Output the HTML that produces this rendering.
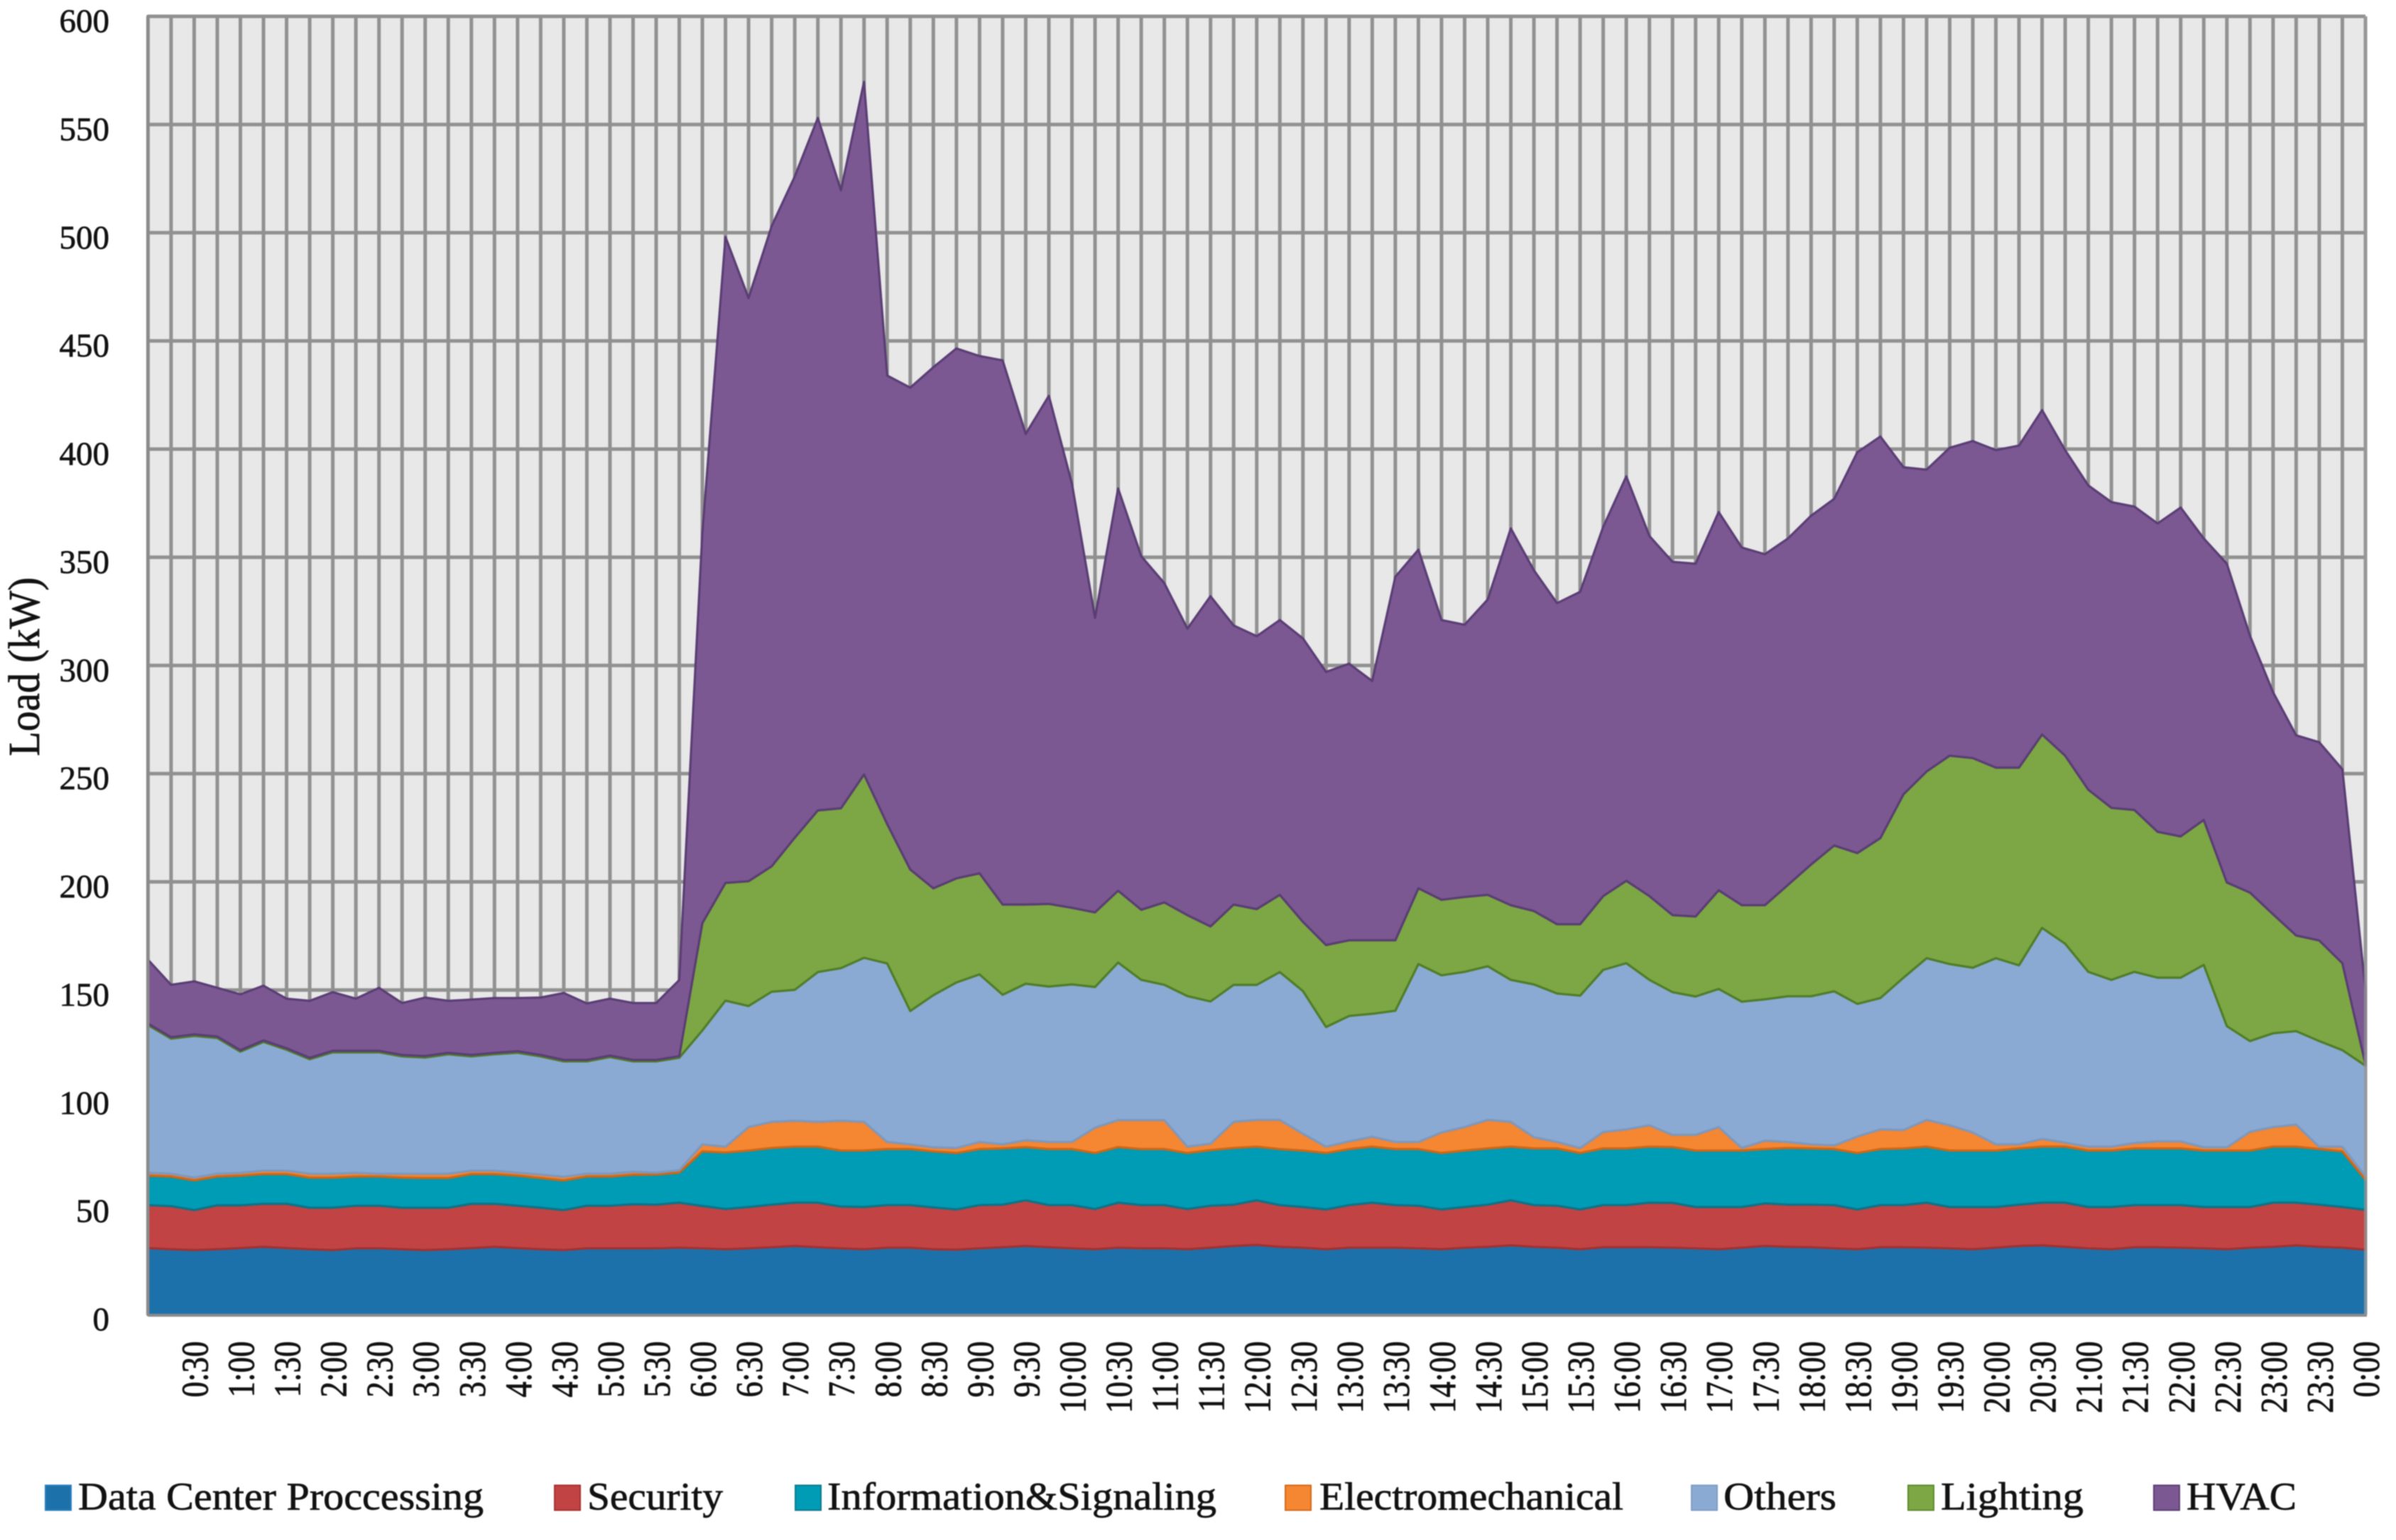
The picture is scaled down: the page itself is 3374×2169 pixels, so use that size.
<!DOCTYPE html>
<html lang="en">
<head>
<meta charset="utf-8">
<title>Load by system over 24 hours</title>
<style>
  html, body { margin: 0; padding: 0; background: #ffffff; }
  #chart { display: block; width: 3374px; height: 2169px; filter: blur(0.9px); }
  text { font-family: "Liberation Serif", serif; fill: #111111; stroke: #111111; stroke-width: 0.7px; }
</style>
</head>
<body>
<svg id="chart" xmlns="http://www.w3.org/2000/svg" width="3374" height="2169" viewBox="0 0 3374 2169">
  <rect x="0" y="0" width="3374" height="2169" fill="#ffffff"/>
  <g id="plot"></g>
  <g id="y-ticks"></g>
  <g id="x-ticks"></g>
  <text transform="translate(55,1065) rotate(-90)" font-size="62" textLength="252" lengthAdjust="spacingAndGlyphs">Load (kW)</text>

  <g>
    <g>
      <rect x="64" y="2092" width="36" height="35" fill="#1C71AA" stroke="#2a80bd" stroke-width="2"/>
      <text x="110" y="2126" font-size="55" textLength="571" lengthAdjust="spacingAndGlyphs">Data Center Proccessing</text>
    </g>
    <g>
      <rect x="781" y="2092" width="36" height="35" fill="#C24343" stroke="#a33030" stroke-width="2"/>
      <text x="827" y="2126" font-size="55" textLength="191" lengthAdjust="spacingAndGlyphs">Security</text>
    </g>
    <g>
      <rect x="1120" y="2092" width="36" height="35" fill="#009BB5" stroke="#0b7a8e" stroke-width="2"/>
      <text x="1165" y="2126" font-size="55" textLength="548" lengthAdjust="spacingAndGlyphs">Information&amp;Signaling</text>
    </g>
    <g>
      <rect x="1810" y="2092" width="36" height="35" fill="#F58632" stroke="#d0691b" stroke-width="2"/>
      <text x="1858" y="2126" font-size="55" textLength="428" lengthAdjust="spacingAndGlyphs">Electromechanical</text>
    </g>
    <g>
      <rect x="2382" y="2092" width="36" height="35" fill="#8AAAD3" stroke="#7f9cc2" stroke-width="2"/>
      <text x="2427" y="2126" font-size="55" textLength="159" lengthAdjust="spacingAndGlyphs">Others</text>
    </g>
    <g>
      <rect x="2687" y="2092" width="36" height="35" fill="#7DA744" stroke="#5a8a2c" stroke-width="2"/>
      <text x="2733" y="2126" font-size="55" textLength="201" lengthAdjust="spacingAndGlyphs">Lighting</text>
    </g>
    <g>
      <rect x="3033" y="2092" width="36" height="35" fill="#7B5892" stroke="#5a3d72" stroke-width="2"/>
      <text x="3079" y="2126" font-size="55" textLength="155" lengthAdjust="spacingAndGlyphs">HVAC</text>
    </g>
  </g>
</svg>

<script>
// Values in kW, one sample every 15 minutes from 0:00 to 24:00 (97 samples).
const dataCenter = [
  30.7,30.2,29.8,30.2,30.7,31.3,30.7,30.2,29.8,30.6,30.6,30.2,
  29.8,30.2,30.7,31.3,30.7,30.2,29.8,30.6,30.6,30.6,30.6,30.9,
  30.6,30.2,30.6,31.1,31.7,31.1,30.6,30.2,30.9,30.9,30.2,30,
  30.6,31.1,31.7,31.1,30.6,30.2,30.9,30.6,30.6,30.2,30.9,31.7,
  32.2,31.3,30.9,30.2,30.9,30.9,30.9,30.6,30.2,30.9,31.3,32,
  31.3,30.9,30.2,31.1,31.1,31.1,30.9,30.6,30.2,30.9,31.7,31.3,
  31.1,30.6,30.2,31.1,31.1,30.9,30.6,30.2,30.9,31.7,32,31.3,
  30.6,30.2,31.1,31.1,30.9,30.6,30.2,30.9,31.3,32,31.3,30.9,30
];
const security = [
  19.9,19.9,18.5,20.3,19.8,19.9,20.5,19.2,19.6,19.7,19.7,19.2,
  19.6,19.2,20.5,19.9,19.6,19.2,18.5,19.7,19.7,20.4,20.2,20.8,
  19.6,18.6,19.1,19.7,20,20.6,19.3,19.5,19.7,19.7,19.3,18.6,
  20,19.7,21.1,19.5,20,18.6,20.8,20,20,18.6,19.4,19.1,
  20.6,19.3,18.8,18.4,19.7,20.8,19.7,19.7,18.4,18.8,19.5,20.8,
  19.3,19.4,18.4,19.5,19.5,20.6,20.7,19.1,19.5,18.8,19.7,19.5,
  19.7,20,18.4,19.5,19.5,20.8,19.1,19.5,18.8,19.1,19.7,20.4,
  19.1,19.5,19.5,19.5,19.7,19.1,19.5,18.8,20.4,19.7,19.5,18.8,18.4
];
const infoSignaling = [
  13.6,13.7,13.7,13.3,13.7,13.7,13.7,13.9,13.9,13.5,13.5,13.9,
  13.7,13.7,13.7,13.7,13.9,13.7,13.7,13.5,13.5,13.6,13.9,13.9,
  25.2,26.1,26.1,26.2,25.9,25.9,25.9,26.1,25.9,25.9,25.9,26.1,
  25.9,26,24.6,25.9,25.9,25.9,25.7,25.9,25.9,25.9,25.7,26.2,
  24.8,25.9,26.1,26.1,25.9,25.9,25.9,26.2,26.1,26.1,26,24.8,
  26.2,26.5,26.1,26.2,26.2,25.9,25.8,26.1,26.1,26.1,25.1,26.2,
  26,25.9,26.1,25.9,26.2,25.9,26.1,26.1,26.1,26,25.9,25.9,
  26.1,26.1,26.2,26.2,26.2,26.1,26.1,26.1,25.9,25.9,25.7,25.7,13.9
];
const electromechanical = [
  1.3,1.3,1.3,1.3,1.3,1.6,1.6,1.8,1.8,1.7,1.3,1.8,
  2,2,1.6,1.6,1.4,1.6,1.7,1.3,1.3,1.4,0.9,1.1,
  3.3,2.7,10.9,12.1,12,11.5,13.8,13.3,3.3,2.2,1.9,2.3,
  3.3,1.9,3.2,3.3,3.3,11.7,12.5,13.4,13.4,2.9,3,12.1,
  12.4,13.5,7.8,2.9,3.6,4.6,3.3,3.3,9.5,10.9,13.2,11.5,
  5.2,3,2.3,7.6,8.8,9.9,5.7,7.3,10.9,1.2,3.9,2.8,
  1.9,1.7,7.6,9.1,8.5,12.4,11.7,8.4,2.9,1.9,3.6,1.9,
  1.8,1.8,2.5,3.3,3.3,1.5,1.5,8.7,9.1,10.2,1.1,2.2,1.6
];
const others = [
  68.3,62.4,65.5,62.7,56,59.5,55.9,52.9,56.1,55.7,56.1,54.2,
  53.7,55.2,52.8,53.8,55.4,54.6,53.3,51.9,53.9,51,51.4,52,
  52.6,67.5,55.9,60.1,60.5,69.2,70.5,75.8,82.5,61.6,70.3,76.5,
  77.4,69.1,72.3,71.8,72.8,65,72.8,64.8,62.5,69.6,65.7,63.3,
  62.4,68.3,65.9,55.3,57.9,56.8,60.6,82.2,72.6,71.7,71,65.6,
  70.6,68.6,70.4,74.9,76.8,67.2,65.9,63.9,63.8,67.6,65.3,67.3,
  68.4,71.2,61.3,60.7,70.4,74.7,74.5,76.1,86,82.7,97.5,91.9,
  80.8,77.1,79.1,75.6,75.6,84.3,56,41.9,43.3,43.2,48.8,44.6,51.1
];
const lighting = [
  0.7,0.7,0.7,0.7,0.7,0.7,0.7,0.7,0.7,0.7,0.7,0.7,
  0.7,0.7,0.7,0.7,0.7,0.7,0.7,0.7,0.7,0.7,0.7,0.7,
  49.6,54.4,57.7,58,70.3,74.7,73.9,84.7,64.4,65.4,49.4,48.1,
  46.7,41.7,36.6,38.2,35.4,34.5,33.2,32.4,38.1,37.4,34.7,37.1,
  35,35.7,32,37.9,35,34,32.6,35,34.9,34.6,33,34.5,
  33.9,32,33,34.1,38.1,38.7,35.6,37,45.6,44.6,43.5,51.5,
  60.9,67.4,69.7,73.9,84.8,86.3,96.3,96.9,88.1,91.4,89.4,86.9,
  84.2,79.5,74.8,67.4,65.3,67,66.4,68.6,55,44.2,46.5,40.2,0.6
];
const hvac = [
  29.5,24.2,24.5,22.5,25.8,25.3,22.9,26.3,27.1,24.1,29.1,24,
  27,24,25.6,25.3,24.6,26.5,30.9,26.1,26.3,26.3,26.3,35.2,
  180.1,298.5,269.5,295.8,305.6,320,285.6,320.1,207.3,222.7,240.8,244.9,
  239.1,251.5,217.5,234.8,196,136.1,185.9,163.4,147.5,132.4,152.6,129,
  126.1,127,131,126.2,127.8,119.8,168,156.5,129.3,125.8,136.5,174.1,
  157.5,148.4,153.6,170.6,186.9,166.4,163.3,163,174.8,165.3,162.2,160.1,
  161.2,160.2,185.2,185.6,151.1,139.5,142.3,146.5,146.7,148.8,149.9,141.2,
  140.6,141.3,140.2,142.5,152,130.1,147.3,118.7,102.6,92.5,91.6,89.6,34.4
];
const seriesKeys = ['data-center','security','information-signaling','electromechanical','others','lighting','hvac'];
const yTickLabels = [0,50,100,150,200,250,300,350,400,450,500,550,600];
const xTickLabels = [
  '0:30','1:00','1:30','2:00','2:30','3:00','3:30','4:00','4:30','5:00','5:30','6:00',
  '6:30','7:00','7:30','8:00','8:30','9:00','9:30','10:00','10:30','11:00','11:30','12:00',
  '12:30','13:00','13:30','14:00','14:30','15:00','15:30','16:00','16:30','17:00','17:30','18:00',
  '18:30','19:00','19:30','20:00','20:30','21:00','21:30','22:00','22:30','23:00','23:30','0:00'
];

const allSeries = [dataCenter, security, infoSignaling, electromechanical, others, lighting, hvac];
const fillColors = ['#1C71AA','#C24343','#009BB5','#F58632','#8AAAD3','#7DA744','#7B5892'];
const edgeColors = ['#2379b8','#a23131','#0b7488','#cf6716','#7d99bf','#4f7d27','#5a3d74'];

const SVG_NS = 'http://www.w3.org/2000/svg';
const plotLeft = 208.4, plotRight = 3331, plotTop = 23, plotBottom = 1851.5, yMax = 600;
const sampleCount = dataCenter.length;
function xScale(i) { return plotLeft + i * (plotRight - plotLeft) / (sampleCount - 1); }
function yScale(v) { return plotBottom - v * (plotBottom - plotTop) / yMax; }

const plot = document.getElementById('plot');

const bg = document.createElementNS(SVG_NS, 'rect');
bg.setAttribute('x', plotLeft);
bg.setAttribute('y', plotTop);
bg.setAttribute('width', plotRight - plotLeft);
bg.setAttribute('height', plotBottom - plotTop);
bg.setAttribute('fill', '#E8E8E8');


plot.appendChild(bg);

for (let i = 0; i < sampleCount; i++) {
  const line = document.createElementNS(SVG_NS, 'line');
  line.setAttribute('x1', xScale(i));
  line.setAttribute('x2', xScale(i));
  line.setAttribute('y1', plotTop);
  line.setAttribute('y2', plotBottom);
  line.setAttribute('stroke', '#919191');
  line.setAttribute('stroke-width', '5');
  
  
  plot.appendChild(line);
}
yTickLabels.forEach(function (v) {
  const line = document.createElementNS(SVG_NS, 'line');
  line.setAttribute('x1', plotLeft);
  line.setAttribute('x2', plotRight);
  line.setAttribute('y1', yScale(v));
  line.setAttribute('y2', yScale(v));
  line.setAttribute('stroke', '#919191');
  line.setAttribute('stroke-width', '5');
  
  
  plot.appendChild(line);
});

// Stacked areas, painted bottom band first.
const running = new Array(sampleCount).fill(0);
allSeries.forEach(function (values, s) {
  const lower = running.slice();
  for (let i = 0; i < sampleCount; i++) running[i] += values[i];
  const pts = [];
  for (let i = 0; i < sampleCount; i++) pts.push(xScale(i).toFixed(1) + ',' + yScale(running[i]).toFixed(1));
  for (let i = sampleCount - 1; i >= 0; i--) pts.push(xScale(i).toFixed(1) + ',' + yScale(lower[i]).toFixed(1));
  const area = document.createElementNS(SVG_NS, 'polygon');
  area.setAttribute('points', pts.join(' '));
  area.setAttribute('fill', fillColors[s]);
  area.setAttribute('stroke', edgeColors[s]);
  area.setAttribute('stroke-width', '3.2');
  area.setAttribute('stroke-linejoin', 'round');
  
  
  plot.appendChild(area);
});

const axisY = document.createElementNS(SVG_NS, 'line');
axisY.setAttribute('x1', plotLeft);
axisY.setAttribute('x2', plotLeft);
axisY.setAttribute('y1', plotTop - 2);
axisY.setAttribute('y2', plotBottom + 2);
axisY.setAttribute('stroke', '#8a8a8a');
axisY.setAttribute('stroke-width', '4');


plot.appendChild(axisY);

const axisX = document.createElementNS(SVG_NS, 'line');
axisX.setAttribute('x1', plotLeft);
axisX.setAttribute('x2', plotRight + 2);
axisX.setAttribute('y1', plotBottom + 1);
axisX.setAttribute('y2', plotBottom + 1);
axisX.setAttribute('stroke', '#8a8a8a');
axisX.setAttribute('stroke-width', '4');


plot.appendChild(axisX);

const rightEdge = document.createElementNS(SVG_NS, 'line');
rightEdge.setAttribute('x1', plotRight);
rightEdge.setAttribute('x2', plotRight);
rightEdge.setAttribute('y1', plotTop);
rightEdge.setAttribute('y2', plotBottom);
rightEdge.setAttribute('stroke', '#9a9a9a');
rightEdge.setAttribute('stroke-width', '4');
rightEdge.setAttribute('stroke-opacity', '0.75');


plot.appendChild(rightEdge);

const yTicksGroup = document.getElementById('y-ticks');
yTickLabels.forEach(function (v) {
  const t = document.createElementNS(SVG_NS, 'text');
  t.setAttribute('x', 154);
  t.setAttribute('y', yScale(v) + 22);
  t.setAttribute('text-anchor', 'end');
  t.setAttribute('font-size', '47');
  
  
  t.textContent = String(v);
  yTicksGroup.appendChild(t);
});

const xTicksGroup = document.getElementById('x-ticks');
xTickLabels.forEach(function (label, k) {
  const bx = xScale((k + 1) * 2) + 19;
  const t = document.createElementNS(SVG_NS, 'text');
  t.setAttribute('transform', 'translate(' + bx.toFixed(1) + ',1889) rotate(-90) scale(1,1.18)');
  t.setAttribute('text-anchor', 'end');
  t.setAttribute('font-size', '44.5');
  
  
  t.textContent = label;
  xTicksGroup.appendChild(t);
});
</script>
</body>
</html>
